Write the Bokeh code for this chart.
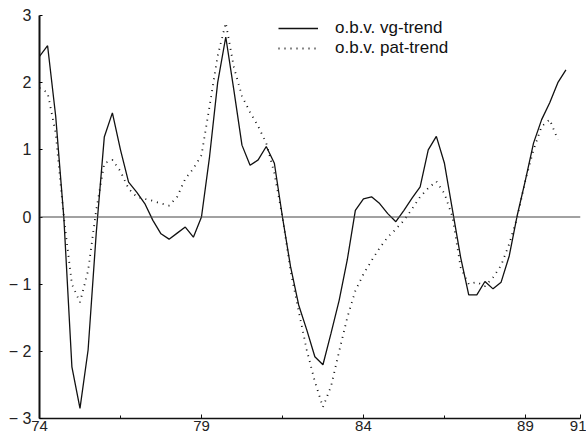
from bokeh.plotting import figure
from bokeh.models import Range1d, FixedTicker, Span, Legend, LegendItem
from bokeh.embed import file_html
from bokeh.resources import INLINE

# quarterly observations, 74.0 .. 90.25
start_year = 74.0
n_quarters = 66
quarters = [start_year + 0.25 * i for i in range(n_quarters)]

vg_trend = [
    2.39, 2.55, 1.50, 0.00,
    -2.23, -2.85, -1.98, -0.25,
    1.19, 1.55, 1.00, 0.52,
    0.37, 0.20, -0.05, -0.25,
    -0.33, -0.24, -0.15, -0.30,
    0.00, 0.90, 2.00, 2.68,
    1.89, 1.07, 0.77, 0.85,
    1.05, 0.80, 0.00, -0.74,
    -1.31, -1.68, -2.08, -2.20,
    -1.73, -1.24, -0.64, 0.10,
    0.27, 0.30, 0.20, 0.05,
    -0.07, 0.10, 0.28, 0.45,
    1.00, 1.20, 0.80, 0.10,
    -0.60, -1.16, -1.16, -0.96,
    -1.07, -0.97, -0.58, 0.03,
    0.55, 1.10, 1.45, 1.70,
    2.00, 2.19,
]

pat_trend = [
    1.92, 1.85, 1.25, 0.00,
    -1.00, -1.27, -0.80, 0.10,
    0.80, 0.85, 0.68, 0.42,
    0.30, 0.27, 0.24, 0.20,
    0.17, 0.30, 0.57, 0.72,
    0.92, 1.65, 2.40, 2.89,
    2.23, 1.80, 1.56, 1.35,
    1.10, 0.65, 0.00, -0.80,
    -1.40, -1.98, -2.45, -2.83,
    -2.52, -2.00, -1.50, -1.10,
    -0.85, -0.65, -0.46, -0.30,
    -0.18, -0.05, 0.12, 0.30,
    0.43, 0.53, 0.35, 0.00,
    -0.75, -1.00, -0.97, -1.03,
    -0.90, -0.72, -0.40, 0.00,
    0.55, 1.00, 1.35, 1.45,
    1.15, float("nan"),
]

series_labels = ["o.b.v. vg-trend", "o.b.v. pat-trend"]

x_tick_values = [74, 79, 84, 89, 90.7]
x_tick_labels = {90.7: "91"}
x_minor_values = [76.5, 81.5, 86.5]
y_tick_values = [-3, -2, -1, 0, 1, 2, 3]
y_tick_labels = {-3: "\u2212 3", -2: "\u2212 2", -1: "\u2212 1"}

FONT = "Liberation Sans"

p = figure(
    width=586, height=433,
    x_range=Range1d(74, 90.7), y_range=Range1d(-3, 3),
    output_backend="svg", toolbar_location=None,
    min_border_left=39, min_border_right=6, min_border_top=15, min_border_bottom=0,
)
p.outline_line_color = None
p.xgrid.visible = False
p.ygrid.visible = False
p.background_fill_color = "white"

zero = Span(location=0, dimension="width", line_color="#444444", line_width=1)
p.add_layout(zero)

r1 = p.line(quarters, vg_trend, line_color="#111111", line_width=1.3)
r2 = p.line(quarters, pat_trend, line_color="#111111", line_width=1.8, line_dash="1 5")

xa = p.xaxis[0]
xa.ticker = FixedTicker(ticks=x_tick_values, minor_ticks=x_minor_values)
xa.major_label_overrides = x_tick_labels
xa.axis_line_width = 1.5
xa.axis_line_color = "#111111"
xa.major_tick_in = 4
xa.major_tick_out = 0
xa.minor_tick_in = 3
xa.minor_tick_out = 0
xa.major_tick_line_color = "#111111"
xa.minor_tick_line_color = "#111111"
xa.major_label_standoff = 2
xa.major_label_text_font = FONT
xa.major_label_text_font_size = "15px"
xa.major_label_text_color = "#222222"

ya = p.yaxis[0]
ya.ticker = FixedTicker(ticks=y_tick_values)
ya.major_label_overrides = y_tick_labels
ya.axis_line_width = 2
ya.axis_line_color = "#111111"
ya.major_tick_in = 3
ya.major_tick_out = 0
ya.minor_tick_in = 0
ya.minor_tick_out = 0
ya.major_label_standoff = 8
ya.major_label_text_font = FONT
ya.major_label_text_font_size = "16px"
ya.major_label_text_color = "#222222"

legend = Legend(
    items=[LegendItem(label=series_labels[0], renderers=[r1]),
           LegendItem(label=series_labels[1], renderers=[r2])],
    location=(239, 360),
    border_line_color=None, background_fill_alpha=0,
    padding=0, margin=0, spacing=0,
    glyph_width=40, glyph_height=18, label_height=18, label_standoff=17,
    label_text_font=FONT, label_text_font_size="17px", label_text_color="#111111",
)
p.add_layout(legend)

open("out.html", "w").write(file_html(p, INLINE))
